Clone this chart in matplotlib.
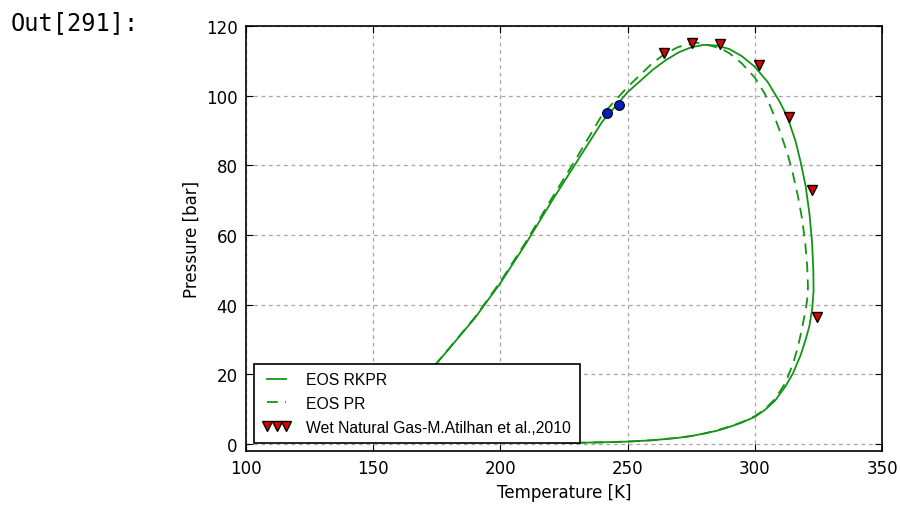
import matplotlib
matplotlib.use("Agg")
import matplotlib.pyplot as plt

# EOS RKPR envelope (T [K], P [bar])
t_rkpr = [140, 150, 160, 170, 175, 180, 190, 200, 210, 220, 230, 240, 250, 260, 265,
          270, 275, 280, 285, 290, 295, 300, 305, 310, 313, 316, 318, 320, 321.5,
          322.5, 323, 323.1, 322.6, 321.5, 320, 318, 315, 312, 308, 304, 300, 295,
          290, 285, 280, 275, 270, 260, 250, 240, 230, 225]
p_rkpr = [4.5, 8, 13, 19.5, 23.2, 27.5, 36.2, 46.2, 57.5, 69.5, 81, 92.5, 101, 107.5, 110.2,
          112.4, 113.9, 114.6, 114.4, 113.4, 111.3, 108.3, 104, 98, 93.5, 87, 81, 74, 66,
          58, 50, 44, 39, 34, 30, 25.5, 20.3, 16.5, 12.5, 9.8, 7.8, 6.2,
          4.9, 3.8, 3.0, 2.3, 1.8, 1.1, 0.7, 0.5, 0.35, 0.3]

# EOS PR envelope
t_pr = [140, 150, 160, 170, 175, 180, 190, 200, 210, 220, 230, 240, 250, 260, 265,
        270, 277, 283, 287, 290, 295, 300, 304, 307.5, 310, 313, 315, 317, 318.5,
        319.8, 320.6, 320.9, 320.6, 320, 318.5, 317, 315, 312, 308, 304, 300, 295,
        290, 285, 280, 275, 270, 260, 250, 240, 230, 225]
p_pr = [4.5, 8, 13, 19.5, 23.3, 27.6, 36.4, 46.6, 58, 70.3, 82.2, 94.5, 102.5, 109.5, 112.2,
        114, 115.2, 114.3, 113.4, 112.2, 109.2, 105.2, 100.5, 94.5, 89.5, 83, 77.5, 71, 65,
        58, 51, 45, 41.5, 38.5, 33, 28, 23, 17.5, 13, 10, 8, 6.3,
        5.0, 3.9, 3.0, 2.3, 1.8, 1.1, 0.7, 0.5, 0.35, 0.3]

# experimental points
t_exp = [264.4, 275.3, 286.4, 301.7, 313.5, 322.4, 324.6]
p_exp = [112.2, 115.0, 114.8, 108.8, 94.0, 72.9, 36.4]

# blue points
t_blue = [241.8, 246.6]
p_blue = [94.9, 97.3]

green = "#149414"

fig = plt.figure(figsize=(9, 5.06), dpi=100)
ax = fig.add_axes([0.2733, 0.1067, 0.7067, 0.8399])

ax.plot(t_rkpr, p_rkpr, color=green, lw=1.3, label="EOS RKPR")
ax.plot(t_pr, p_pr, color=green, lw=1.3, dashes=(6, 4), label="EOS PR")
ax.plot(t_exp, p_exp, "v", mfc="#dd0000", mec="black", mew=1.0, ms=7,
        label="Wet Natural Gas-M.Atilhan et al.,2010")
ax.plot(t_blue, p_blue, "o", mfc="#0020c0", mec="black", mew=0.8, ms=7)

ax.set_xlim(100, 350)
ax.set_ylim(-2, 120)
ax.set_xticks([100, 150, 200, 250, 300, 350])
ax.set_yticks([0, 20, 40, 60, 80, 100, 120])
ax.grid(True, color="0.65", linestyle=(0, (3, 3)), lw=0.9)
ax.tick_params(direction="in", top=True, right=True, length=5, labelsize=12, pad=6)
for s in ax.spines.values():
    s.set_linewidth(1.2)
ax.set_xlabel("Temperature [K]", fontsize=12)
ax.set_ylabel("Pressure [bar]", fontsize=12)

leg = ax.legend(loc="lower left", numpoints=3, fancybox=False, framealpha=1,
                prop={"family": "Liberation Sans", "size": 11.3},
                handlelength=1.8, handletextpad=1.0, labelspacing=0.55,
                borderpad=0.55, borderaxespad=0.5)
leg.get_frame().set_edgecolor("black")
leg.get_frame().set_linewidth(1.2)
leg.set_zorder(5)

fig.text(0.012, 0.955, "Out[291]:", family="DejaVu Sans Mono", fontsize=17,
         va="center", ha="left")

fig.savefig("out.png", dpi=100)
